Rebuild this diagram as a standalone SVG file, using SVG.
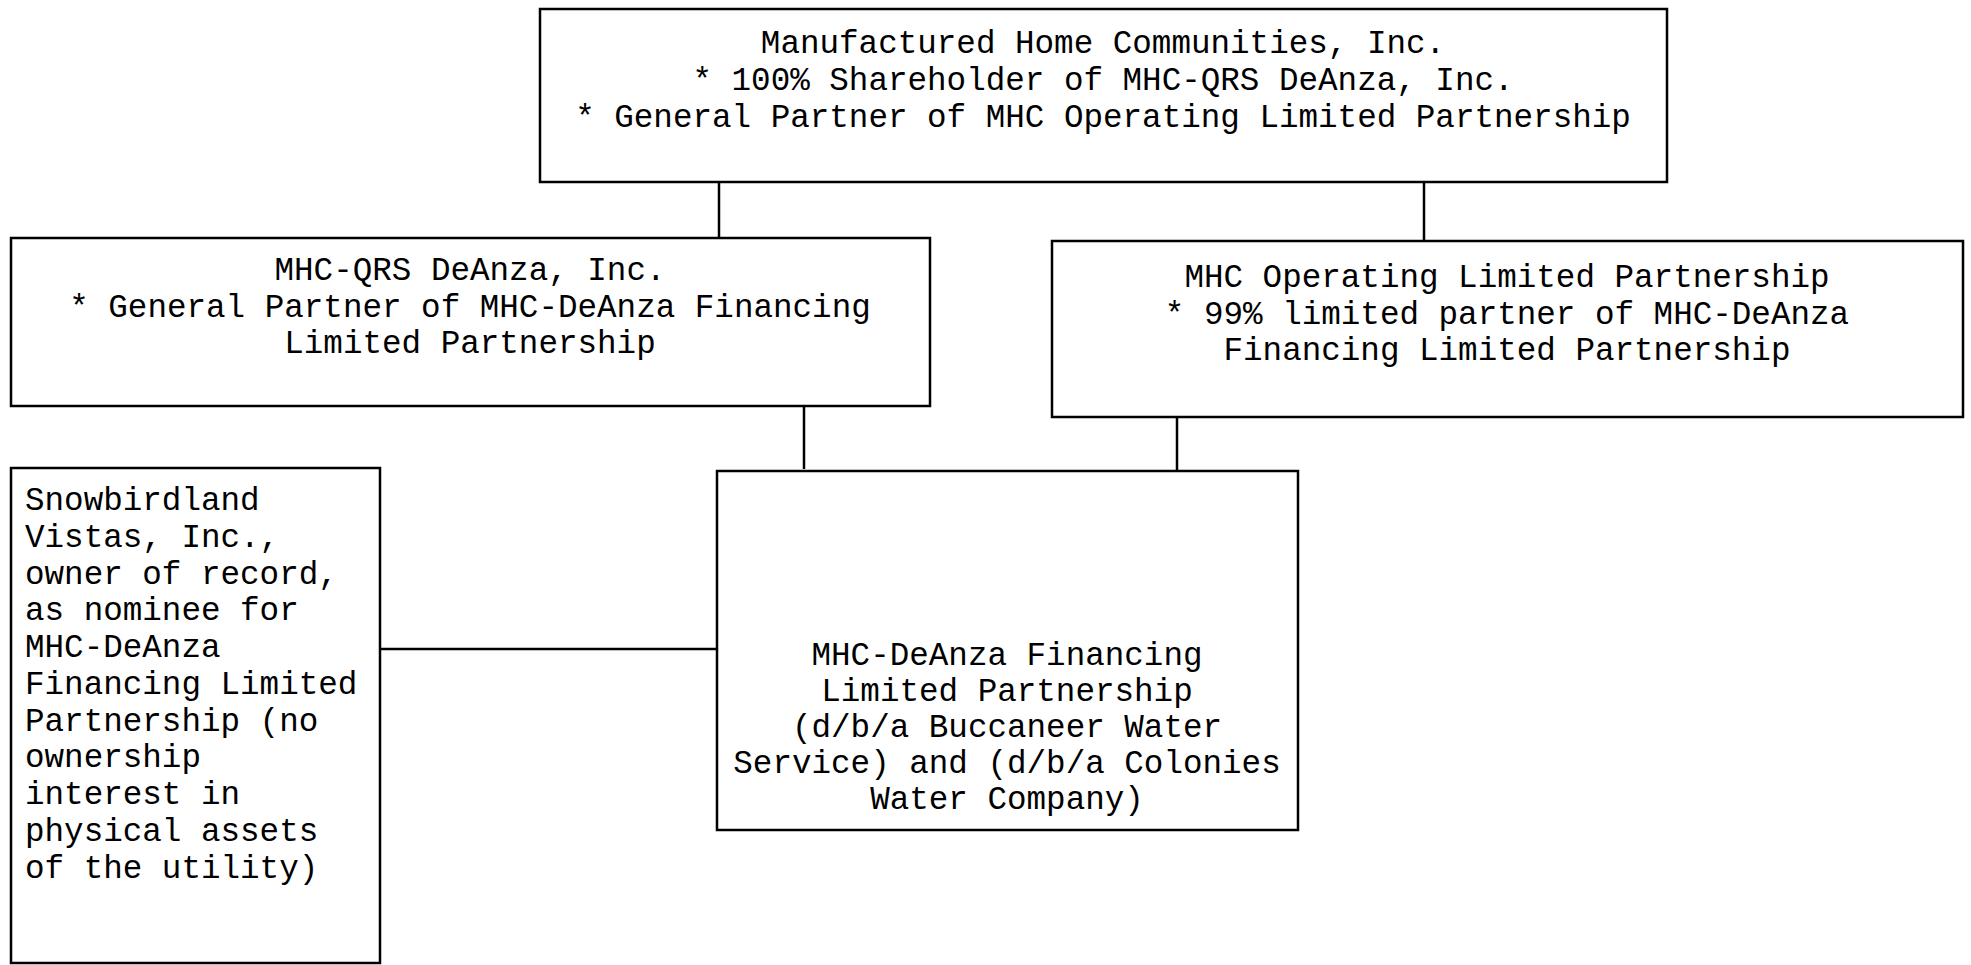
<svg xmlns="http://www.w3.org/2000/svg" width="1971" height="965" viewBox="0 0 1971 965">
<style>
.box{fill:#fff;stroke:#000;stroke-width:2.5}
.ln{stroke:#000;stroke-width:2.5;fill:none}
.t{font-family:"Liberation Mono","Courier New",monospace;font-size:32.6px;fill:#000}
.c{text-anchor:middle}
</style>
<rect width="1971" height="965" fill="#fff"/>
<g id="connectors">
<line class="ln" x1="719" y1="182" x2="719" y2="238"/>
<line class="ln" x1="1424" y1="182" x2="1424" y2="241"/>
<line class="ln" x1="804" y1="406" x2="804" y2="469"/>
<line class="ln" x1="1177" y1="417" x2="1177" y2="472"/>
<line class="ln" x1="380" y1="649" x2="717" y2="649"/>
</g>
<g id="mhc">
<rect class="box" x="540" y="9" width="1127" height="173"/>
<text class="t c" x="1103" y="53">Manufactured Home Communities, Inc.</text>
<text class="t c" x="1103" y="90">* 100% Shareholder of MHC-QRS DeAnza, Inc.</text>
<text class="t c" x="1103" y="127">* General Partner of MHC Operating Limited Partnership</text>
</g>
<g id="qrs">
<rect class="box" x="11" y="238" width="919" height="168"/>
<text class="t c" x="470" y="280">MHC-QRS DeAnza, Inc.</text>
<text class="t c" x="470" y="317">* General Partner of MHC-DeAnza Financing</text>
<text class="t c" x="470" y="353">Limited Partnership</text>
</g>
<g id="operating">
<rect class="box" x="1052" y="241" width="911" height="176"/>
<text class="t c" x="1507" y="287">MHC Operating Limited Partnership</text>
<text class="t c" x="1507" y="324">* 99% limited partner of MHC-DeAnza</text>
<text class="t c" x="1507" y="360">Financing Limited Partnership</text>
</g>
<g id="snowbird">
<rect class="box" x="11" y="468" width="369" height="495"/>
<text class="t" x="25" y="510">Snowbirdland</text>
<text class="t" x="25" y="547">Vistas, Inc.,</text>
<text class="t" x="25" y="584">owner of record,</text>
<text class="t" x="25" y="620">as nominee for</text>
<text class="t" x="25" y="657">MHC-DeAnza</text>
<text class="t" x="25" y="694">Financing Limited</text>
<text class="t" x="25" y="731">Partnership (no</text>
<text class="t" x="25" y="767">ownership</text>
<text class="t" x="25" y="804">interest in</text>
<text class="t" x="25" y="841">physical assets</text>
<text class="t" x="25" y="878">of the utility)</text>
</g>
<g id="financing">
<rect class="box" x="717" y="471" width="581" height="359"/>
<text class="t c" x="1007" y="665">MHC-DeAnza Financing</text>
<text class="t c" x="1007" y="701">Limited Partnership</text>
<text class="t c" x="1007" y="737">(d/b/a Buccaneer Water</text>
<text class="t c" x="1007" y="773">Service) and (d/b/a Colonies</text>
<text class="t c" x="1007" y="809">Water Company)</text>
</g>
</svg>
